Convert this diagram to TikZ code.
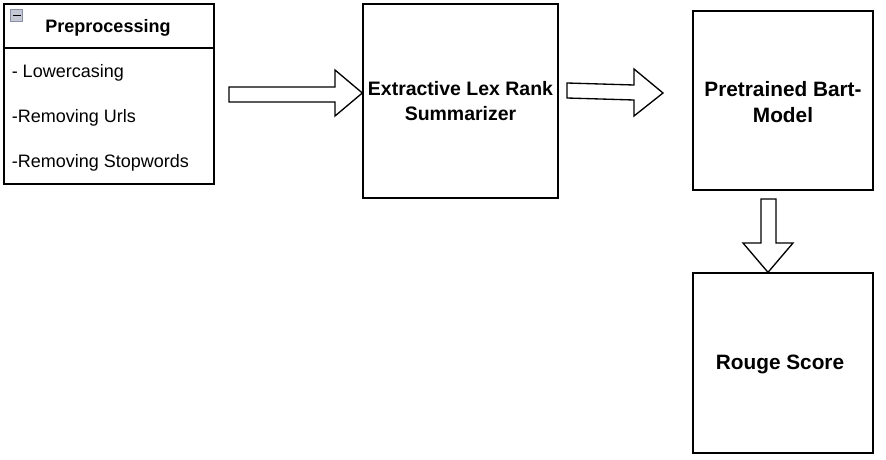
\documentclass[tikz,border=0pt]{standalone}
\usepackage{fontspec}
\setmainfont{Liberation Sans}
\definecolor{iconfill}{HTML}{C4C7D4}
\definecolor{iconedge}{HTML}{8C90A4}
\begin{document}
\begin{tikzpicture}[x=0.75pt,y=-0.75pt,
  box/.style={draw=black,line width=1pt,fill=white,inner sep=0pt,align=center,
    font=\fontsize{15.6}{19.5}\selectfont\bfseries},
  blockarrow/.style={draw=black,line width=1pt,fill=white,line join=miter},
  item/.style={anchor=west,inner sep=0pt,font=\fontsize{13.5}{16}\selectfont}]
\useasboundingbox (0,0) rectangle (886,460);
% Preprocessing list box
\node[draw=black,line width=1pt,minimum width=157.5pt,minimum height=135pt,inner sep=0pt] (pre) at (109,94) {};
\draw[line width=1pt] (4,48) -- (214,48);
\node[inner sep=0pt,font=\fontsize{13.5}{16}\selectfont\bfseries] (pretitle) at (108,28) {Preprocessing};
\node[draw=iconedge,fill=iconfill,line width=0.75pt,minimum size=9.5pt,inner sep=0pt] (icon) at (16.5,15.5) {};
\draw[line width=1.2pt] (12.5,15.5) -- (20.5,15.5);
\node[item] (i1) at (11.5,73) {- Lowercasing};
\node[item] (i2) at (11.5,118) {-Removing Urls};
\node[item] (i3) at (11.5,163) {-Removing Stopwords};
% main boxes
\node[box,minimum width=146.25pt,minimum height=145.5pt,font=\fontsize{14.6}{18.5}\selectfont\bfseries] (lex) at (460.5,101) {Extractive Lex Rank\\Summarizer};
\node[box,minimum width=135pt,minimum height=134.25pt] (bart) at (783,100.5) {};
\node[inner sep=0pt,align=center,font=\fontsize{15.6}{19.5}\selectfont\bfseries] (barttxt) at (783,102.5) {Pretrained Bart-\\Model};
\node[box,minimum width=135pt,minimum height=135pt] (rouge) at (783,363) {};
\node[inner sep=0pt,font=\fontsize{15.6}{19.5}\selectfont\bfseries] (rougetxt) at (780,364) {Rouge Score};
% block arrows
\draw[blockarrow] (229,87) -- (335,87) -- (335,70) -- (lex.west |- 0,93) -- (335,116) -- (335,102) -- (229,102) -- cycle;
\draw[blockarrow] (567,83) -- (634,85) -- (634,69) -- (663,93) -- (634,116) -- (634,100) -- (567,98) -- cycle;
\draw[blockarrow] (761,199) -- (776,199) -- (776,243) -- (793,243) -- (rouge.north -| 768,0) -- (743,243) -- (761,243) -- cycle;
\end{tikzpicture}
\end{document}
